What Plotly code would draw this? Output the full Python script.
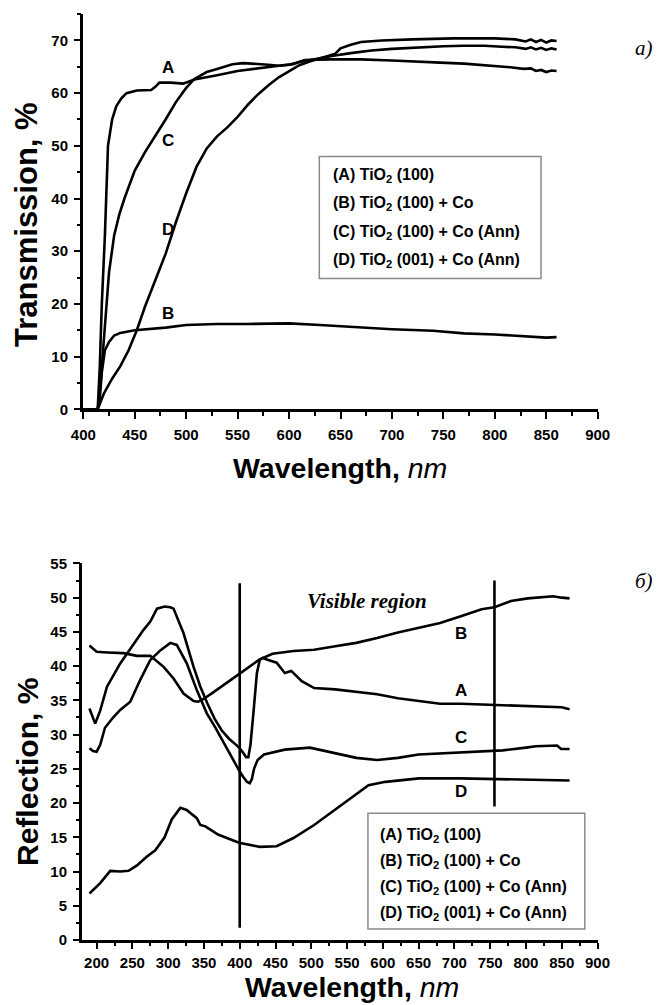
import plotly.graph_objects as go

# ---------------- (a) Transmission ----------------
wl_A_t = [400, 414, 416, 418, 421, 424, 428, 432, 437, 442, 452, 466, 470, 474, 485, 497, 508, 520, 530,
          550, 575, 590, 604, 615, 640, 670, 700, 727, 747, 770, 800, 815, 828, 835, 840, 845, 850, 855, 860]
T_A = [0, 0, 8, 20, 33, 50, 55, 57.5, 59, 60, 60.5, 60.6, 61.2, 62, 62, 61.8, 62.6, 63.0, 63.4,
       64.2, 64.9, 65.2, 65.5, 66.3, 66.4, 66.4, 66.2, 65.9, 65.8, 65.6, 65.2, 64.9, 64.6, 64.7, 64.2, 64.4, 64.0, 64.3, 64.2]

wl_B_t = [400, 414, 416, 418, 421, 425, 430, 436, 450, 470, 480, 500, 530, 560, 600, 630, 660, 700, 740,
          770, 800, 830, 850, 860]
T_B = [0, 0, 2, 7, 11.2, 12.8, 14, 14.5, 15, 15.3, 15.5, 16, 16.2, 16.2, 16.3, 16, 15.6, 15.2, 14.9,
       14.4, 14.2, 13.9, 13.6, 13.7]

wl_C_t = [400, 414, 416, 418, 420, 422, 425, 430, 435, 440, 450, 460, 470, 480, 490, 500, 508, 520, 530,
          545, 555, 570, 580, 590, 600, 610, 620, 630, 643, 660, 680, 700, 727, 750, 770, 790, 807, 820,
          830, 835, 840, 845, 850, 855, 860]
T_C = [0, 0, 3, 8, 13, 19, 26, 33, 37, 40, 45.3, 48.8, 51.8, 55, 58.3, 61, 62.7, 64, 64.6,
       65.5, 65.7, 65.6, 65.4, 65.2, 65.4, 65.9, 66.3, 66.7, 67.1, 67.6, 68.1, 68.4, 68.7, 68.9, 69.0, 69.0, 68.8, 68.7,
       68.4, 68.7, 68.3, 68.6, 68.2, 68.5, 68.3]

wl_D_t = [400, 414, 416, 420, 428, 436, 444, 452, 460, 470, 480, 490, 500, 510, 520, 530, 540, 550, 560,
          570, 580, 590, 600, 610, 620, 630, 640, 645, 650, 660, 670, 690, 720, 760, 800, 820, 830, 835,
          840, 845, 850, 855, 860]
T_D = [0, 0, 1, 3, 5.8, 8.2, 11.2, 15, 19.5, 24.5, 29.5, 35.5, 41, 46, 49.5, 51.8, 53.5, 55.5, 57.8,
       59.8, 61.5, 63, 64.2, 65.3, 66, 66.6, 67.1, 67.5, 68.5, 69.2, 69.7, 70.0, 70.2, 70.4, 70.4, 70.2, 69.8, 70.2,
       69.7, 70.1, 69.6, 70.0, 69.9]

# ---------------- (б) Reflection ----------------
wl_A_r = [190, 198, 205, 214.5, 233, 251.7, 265.6, 275, 284.4, 295, 303, 307.5, 321.5, 335.5, 345, 355,
          365, 375, 385, 395, 400, 405, 409, 412, 415, 419, 424, 428, 432, 440, 451.6, 463, 472, 486.7,
          504, 533.5, 562.8, 592, 621, 650.6, 680, 709, 767.6, 826, 850, 861]
R_A = [33.8, 31.6, 33.5, 37, 40.4, 43.3, 45.3, 46.5, 48.4, 48.7, 48.6, 48.4, 44.8, 39.9, 37, 34.5,
       32.3, 30.6, 29.4, 28.5, 28.0, 27.3, 26.7, 26.7, 28.5, 33, 39, 40.9, 41.2, 40.9, 40.5, 39, 39.3, 37.8,
       36.8, 36.6, 36.3, 35.9, 35.3, 34.9, 34.5, 34.5, 34.3, 34.1, 34.0, 33.7]

wl_B_r = [190, 200, 215, 237.7, 256.4, 275, 293.6, 307.5, 321.5, 335.5, 342, 349.4, 362, 377.4, 400,
          428, 445.8, 475, 504, 533.5, 562.8, 592, 621, 650.6, 680, 709, 738, 756, 779, 802.7, 826, 838,
          850, 861]
R_B = [43, 42.1, 42.0, 41.9, 41.5, 41.5, 39.9, 38.2, 36.0, 34.9, 34.8, 35.2, 36.1, 37.2, 38.9,
       41.0, 41.8, 42.2, 42.4, 42.9, 43.4, 44.1, 44.9, 45.6, 46.3, 47.3, 48.3, 48.6, 49.5, 49.9, 50.1, 50.2,
       50.0, 49.9]

wl_C_r = [190, 195, 200, 205, 211.7, 223, 233, 247, 261, 275, 289, 303, 312, 326, 340, 354, 365, 375,
          385, 395, 400, 405, 410, 414, 417, 420, 425, 434, 463, 498, 533.5, 563, 592, 621, 650, 709,
          767.6, 800, 814, 843.6, 849, 861]
R_C = [28, 27.6, 27.5, 28.5, 31, 32.5, 33.6, 34.8, 38, 40.9, 42.3, 43.4, 43.1, 40.4, 36.5, 33.1, 31.2, 29.3,
       27.3, 25.5, 24.6, 23.8, 23.1, 22.9, 23.5, 25, 26.3, 27.1, 27.8, 28.1, 27.3, 26.6, 26.3, 26.6, 27.1, 27.4,
       27.7, 28.1, 28.3, 28.4, 27.9, 27.9]

wl_D_r = [190, 205, 219, 233, 244.7, 256.4, 270.4, 282, 295, 305, 317, 325.8, 340, 345, 352, 369.7,
          399, 428, 451.6, 475, 504, 533.5, 562.8, 580, 603.7, 650.6, 709, 767.6, 826, 861]
R_D = [6.8, 8.3, 10.1, 10.0, 10.1, 10.9, 12.2, 13.1, 15, 17.6, 19.3, 19.0, 17.8, 16.8, 16.6, 15.4,
       14.2, 13.6, 13.7, 14.9, 16.8, 19.0, 21.2, 22.6, 23.1, 23.6, 23.6, 23.5, 23.4, 23.3]

# visible-region boundary lines
vis_left_x = [400, 400]
vis_left_y = [1.8, 52.1]
vis_right_x = [756, 756]
vis_right_y = [19.5, 52.5]

legend_labels = ["(A) TiO<sub>2</sub> (100)", "(B) TiO<sub>2</sub> (100) + Co",
                 "(C) TiO<sub>2</sub> (100) + Co (Ann)", "(D) TiO<sub>2</sub> (001) + Co (Ann)"]
curve_letters = ["A", "B", "C", "D"]

W, H = 657, 1005
def px(x):
    return x / W
def py(y):
    return 1 - y / H

fig = go.Figure()
line = dict(color="black", width=2.6)
for xs, ys in [(wl_A_t, T_A), (wl_B_t, T_B), (wl_C_t, T_C), (wl_D_t, T_D)]:
    fig.add_trace(go.Scatter(x=xs, y=ys, mode="lines", line=line, xaxis="x", yaxis="y",
                             showlegend=False, hoverinfo="skip"))
for xs, ys in [(wl_A_r, R_A), (wl_B_r, R_B), (wl_C_r, R_C), (wl_D_r, R_D),
               (vis_left_x, vis_left_y), (vis_right_x, vis_right_y)]:
    fig.add_trace(go.Scatter(x=xs, y=ys, mode="lines", line=line, xaxis="x2", yaxis="y2",
                             showlegend=False, hoverinfo="skip"))

FONT = "Liberation Sans, Arial, sans-serif"
SERIF = "Liberation Serif, Times New Roman, serif"
tickfont = dict(family=FONT, size=15, color="black", weight="bold")
common = dict(showline=True, linecolor="black", linewidth=2.5, ticks="outside", ticklen=6.5,
              tickwidth=2, tickcolor="black", showgrid=False, zeroline=False, tickfont=tickfont,
              automargin=False)
minor = lambda d: dict(dtick=d, ticks="outside", ticklen=3.5, tickwidth=2, tickcolor="black", showgrid=False)

fig.update_layout(
    template="none",
    width=W, height=H, margin=dict(l=0, r=0, t=0, b=0, autoexpand=False),
    paper_bgcolor="white", plot_bgcolor="white",
    xaxis=dict(domain=[px(83.3), px(597.7)], range=[400, 900], tick0=400, dtick=50, anchor="y",
               minor=minor(25), ticklabelstandoff=3, **common),
    yaxis=dict(domain=[py(409.3), py(14)], range=[0, 75.02], tick0=0, dtick=10, anchor="x",
               minor=minor(5), ticklabelstandoff=3, **common),
    xaxis2=dict(domain=[px(82.3), px(597.5)], range=[180, 900], tick0=200, dtick=50, anchor="y2",
                minor=dict(dtick=25, tick0=200, ticks="outside", ticklen=3.5, tickwidth=2, tickcolor="black"),
                ticklabelstandoff=1, **common),
    yaxis2=dict(domain=[py(940), py(563.3)], range=[0, 55.02], tick0=0, dtick=5, anchor="x2",
                minor=minor(2.5), ticklabelstandoff=3, **common),
)

ann = []
def paper_text(text, x, y, size, family=FONT, angle=0, xanchor="center"):
    ann.append(dict(text=text, x=px(x), y=py(y), xref="paper", yref="paper", textangle=angle,
                    xanchor=xanchor, yanchor="middle", showarrow=False,
                    font=dict(family=family, size=size, color="black")))

# axis titles
paper_text("<b>Transmission, %</b>", 27, 225, 31, angle=-90)
paper_text("<b>Wavelength,</b> <i>nm</i>", 340, 468, 28.5)
paper_text("<b>Reflection, %</b>", 27, 772, 30, angle=-90)
paper_text("<b>Wavelength,</b> <i>nm</i>", 352, 987, 28.5)
# panel marks
paper_text("<i>а)</i>", 633, 48, 21, family=SERIF, xanchor="left")
paper_text("<i>б)</i>", 633, 581, 21, family=SERIF, xanchor="left")

ann.append(dict(text="<b><i>Visible region</i></b>", x=577.5, y=49.5, xref="x2", yref="y2",
                xanchor="center", yanchor="middle",
                showarrow=False, font=dict(family=SERIF, size=21, color="black")))

# curve letters
top_lbl_pos = {"A": (482, 64.9), "B": (482, 18.2), "C": (482, 51.1), "D": (482, 34.1)}
bot_lbl_pos = {"A": (709, 36.5), "B": (709, 44.8), "C": (709, 29.6), "D": (709, 21.7)}
for k in curve_letters:
    ann.append(dict(text="<b>%s</b>" % k, x=top_lbl_pos[k][0], y=top_lbl_pos[k][1], xref="x", yref="y",
                    xanchor="center", yanchor="middle",
                    showarrow=False, font=dict(family=FONT, size=17, color="black")))
    ann.append(dict(text="<b>%s</b>" % k, x=bot_lbl_pos[k][0], y=bot_lbl_pos[k][1], xref="x2", yref="y2",
                    xanchor="center", yanchor="middle",
                    showarrow=False, font=dict(family=FONT, size=17, color="black")))

# legends (text boxes)
top_leg_y = [44.4, 39.0, 33.6, 28.2]
bot_leg_y = [15.2, 11.5, 7.7, 3.8]
for lbl, yv in zip(legend_labels, top_leg_y):
    ann.append(dict(text="<b>%s</b>" % lbl, x=640.8, y=yv, xref="x", yref="y", xanchor="left",
                    yanchor="middle", showarrow=False, font=dict(family=FONT, size=16, color="black")))
for lbl, yv in zip(legend_labels, bot_leg_y):
    ann.append(dict(text="<b>%s</b>" % lbl, x=593.9, y=yv, xref="x2", yref="y2", xanchor="left",
                    yanchor="middle", showarrow=False, font=dict(family=FONT, size=16, color="black")))
fig.update_layout(annotations=ann)

fig.add_shape(type="rect", xref="x", yref="y", x0=629.4, x1=844.9, y0=24.8, y1=47.97,
              line=dict(color="#8a8a8a", width=1.5), fillcolor="white", layer="below")
fig.add_shape(type="rect", xref="x2", yref="y2", x0=579.2, x1=882.3, y0=1.6, y1=18.5,
              line=dict(color="#8a8a8a", width=1.5), fillcolor="white", layer="below")

fig.write_html("out.html", config={"displayModeBar": False},
               post_script="document.body.style.margin='0';document.body.style.overflow='hidden';")
